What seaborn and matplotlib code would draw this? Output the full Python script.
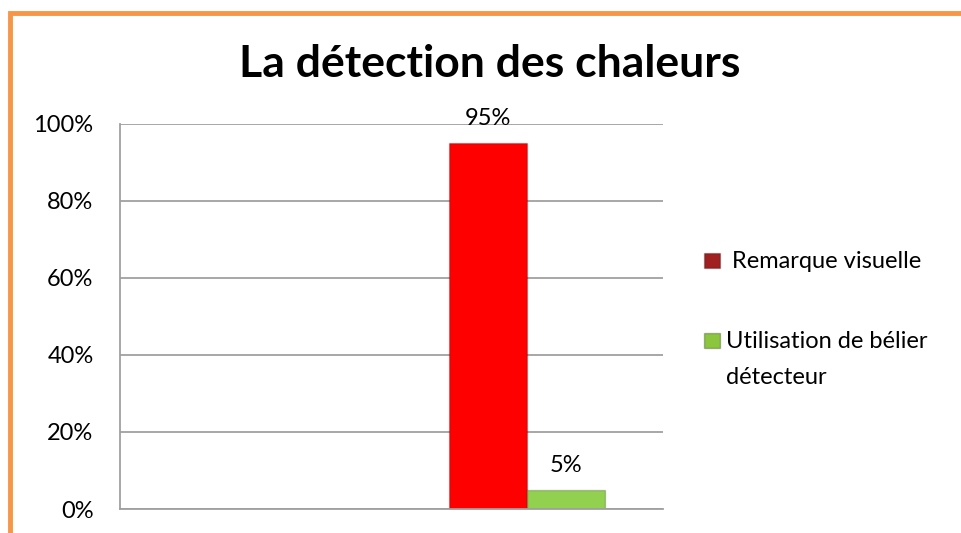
import pandas as pd
import matplotlib.pyplot as plt
import seaborn as sns
from matplotlib.patches import Rectangle
from matplotlib.ticker import PercentFormatter

# data
groupes = ["", "detection"]
methodes = ["Remarque visuelle", "Utilisation de bélier détecteur"]
valeurs = [95, 5]
couleurs = ["#FF0000", "#92D050"]
couleurs_legende = ["#A02020", "#8CC63F"]

df = pd.DataFrame({"groupe": ["detection"] * 2, "methode": methodes, "valeur": valeurs})

sns.set_style("white")
plt.rcParams["font.family"] = ["Lato", "DejaVu Sans"]
plt.rcParams["text.color"] = "black"

fig = plt.figure(figsize=(9.62, 5.33), dpi=100)
ax = fig.add_axes([120 / 962, 1 - 509 / 533, (663 - 120) / 962, (509 - 124) / 533])

sns.barplot(data=df, x="groupe", y="valeur", hue="methode", order=groupes,
            hue_order=methodes, palette=couleurs, width=0.575, ax=ax,
            legend=False, saturation=1)

for p in ax.patches:
    p.set_edgecolor("#00000033")
    p.set_linewidth(1)

for cont in ax.containers:
    ax.bar_label(cont, fmt="%d%%", padding=10, fontsize=17, color="black")

ax.set_ylim(0, 100)
ax.set_yticks(range(0, 101, 20))
ax.yaxis.set_major_formatter(PercentFormatter(decimals=0))
ax.grid(axis="y", color="#A0A0A0", linewidth=1.3)
ax.set_axisbelow(True)
ax.tick_params(axis="y", length=8, width=1.3, color="#A0A0A0", labelsize=17,
               labelcolor="black", pad=11)
ax.tick_params(axis="x", length=0, labelbottom=False)
ax.set_xlabel("")
ax.set_ylabel("")
for s in ["top", "right"]:
    ax.spines[s].set_visible(False)
ax.spines["left"].set_color("#A0A0A0")
ax.spines["left"].set_linewidth(1.3)
ax.spines["bottom"].set_color("#A0A0A0")
ax.spines["bottom"].set_linewidth(1.3)

fig.text(490 / 962, 1 - 64 / 533, "La détection des chaleurs", ha="center",
         va="center", fontsize=32, fontweight="bold", color="black")

handles = [Rectangle((0, 0), 1, 1, facecolor=c, edgecolor="#00000040") for c in couleurs_legende]
labels = [" Remarque visuelle", "Utilisation de bélier"]
leg = fig.legend(handles, labels, loc="upper left", bbox_to_anchor=(695 / 962, 1 - 242 / 533),
                 frameon=False, fontsize=17, handlelength=0.65, handleheight=0.6,
                 handletextpad=0.25, labelspacing=2.5, borderaxespad=0)
for t in leg.get_texts():
    t.set_color("black")
fig.text(726 / 962, 1 - 378 / 533, "détecteur", ha="left", va="center", fontsize=17)

# cadre orange
fig.patches.append(Rectangle((10 / 962, -0.1), 1.2, 1 - 13 / 533 + 0.1, transform=fig.transFigure,
                             fill=False, edgecolor="#F79646", linewidth=3.5))

fig.savefig("out.png", dpi=100)
